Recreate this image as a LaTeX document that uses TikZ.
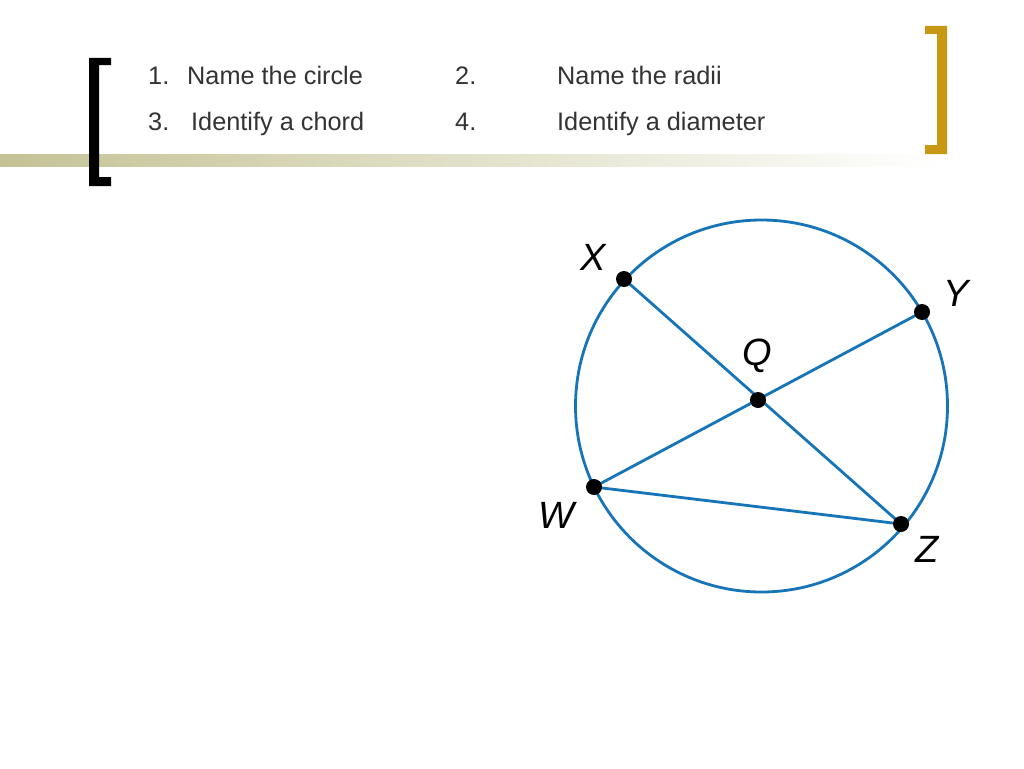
\documentclass[tikz,border=0pt]{standalone}
\usepackage{fontspec}
\setmainfont{Liberation Sans}
\begin{document}
\begin{tikzpicture}[x=1pt,y=-1pt,
  itemtxt/.style={anchor=base west,inner sep=0pt,text=black!80,font=\fontsize{25.3}{28}\selectfont},
  ptlabel/.style={inner sep=0pt,font=\itshape\fontsize{38}{42}\selectfont},
  geo/.style={draw=circblue,line width=2.8pt},
  dot/.style={circle,fill=black,inner sep=0pt,minimum size=16pt}]
\definecolor{circblue}{RGB}{22,116,184}
\definecolor{olivebar}{RGB}{196,194,148}
\definecolor{goldbr}{RGB}{200,152,20}
\useasboundingbox (0,0) rectangle (1024,768);
\fill[white] (0,0) rectangle (1024,768);
% gradient bar
\shade[left color=olivebar,middle color=olivebar!60,right color=white] (0,154) rectangle (940,166);
% left bracket
\fill[black] (89,58) -- (111,58) -- (111,65) -- (99,65) -- (99,177) -- (111,177) -- (111,186) -- (89,186) -- cycle;
% right bracket
\fill[goldbr] (925,26) -- (947,26) -- (947,154) -- (925,154) -- (925,145) -- (937,145) -- (937,34) -- (925,34) -- cycle;
% items
\node[itemtxt] (n1) at (148,84) {1.};
\node[itemtxt] (t1) at (187,84) {Name the circle};
\node[itemtxt] (n2) at (455,84) {2.};
\node[itemtxt] (t2) at (557,84) {Name the radii};
\node[itemtxt] (n3) at (148,130) {3.};
\node[itemtxt] (t3) at (191,130) {Identify a chord};
\node[itemtxt] (n4) at (455,130) {4.};
\node[itemtxt] (t4) at (557,130) {Identify a diameter};
% circle
\draw[geo] (761.5,406) circle[radius=186];
\coordinate (X) at (624,279);
\coordinate (Y) at (922,312);
\coordinate (W) at (594,487);
\coordinate (Z) at (901,524);
\coordinate (Q) at (758,400);
\draw[geo] (X) -- (Z);
\draw[geo] (W) -- (Y);
\draw[geo] (W) -- (Z);
\node[dot] (dX) at (X) {};
\node[dot] (dY) at (Y) {};
\node[dot] (dW) at (W) {};
\node[dot] (dZ) at (Z) {};
\node[dot] (dQ) at (Q) {};
\node[ptlabel] (lX) at (593,257) {X};
\node[ptlabel] (lY) at (956,293) {Y};
\node[ptlabel] (lQ) at (757,356) {Q};
\node[ptlabel] (lW) at (556,515) {W};
\node[ptlabel] (lZ) at (927,549) {Z};
\end{tikzpicture}
\end{document}
